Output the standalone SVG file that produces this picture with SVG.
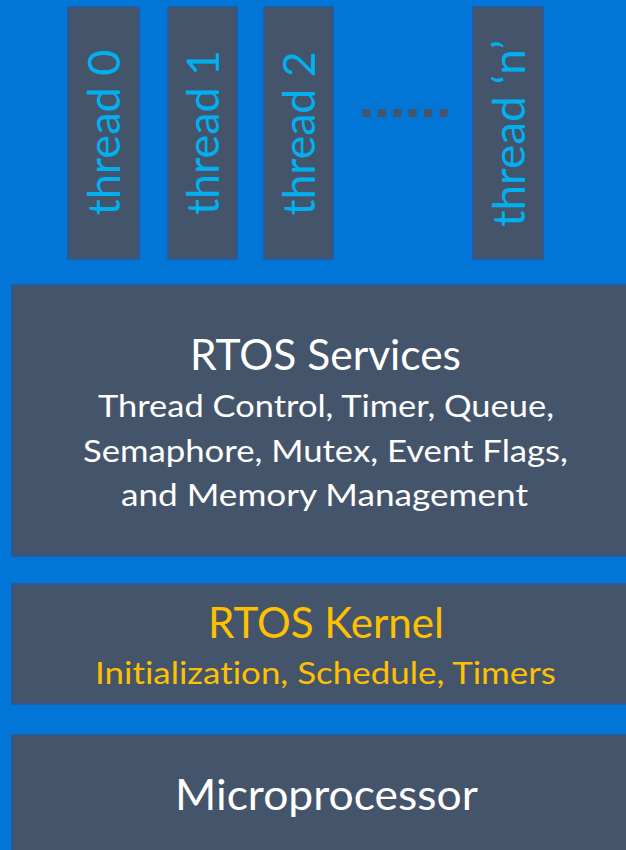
<svg xmlns="http://www.w3.org/2000/svg" width="626" height="850" viewBox="0 0 626 850">
  <style>
    text { font-variant-ligatures: none; font-feature-settings: "liga" 0, "dlig" 0; }
    .panel { fill: #44546A; stroke: #2F5597; stroke-width: 1.5; }
    .thread-label { font-family: Lato, "Open Sans", sans-serif; font-size: 45px; fill: #00B0F0; text-anchor: middle; }
    .title { font-family: Lato, "Open Sans", sans-serif; font-size: 42px; text-anchor: middle; }
    .sub { font-family: Lato, "Open Sans", sans-serif; font-size: 31.5px; text-anchor: middle; }
    .white { fill: #FFFFFF; }
    .gold { fill: #FFC000; }
  </style>

  <!-- background -->
  <rect x="0" y="0" width="626" height="850" fill="#0276D6"/>

  <!-- application threads -->
  <g id="thread0">
    <rect class="panel" x="68" y="7" width="71" height="252"/>
    <text class="thread-label" transform="translate(120,132.5) rotate(-90)" textLength="166" lengthAdjust="spacingAndGlyphs">thread 0</text>
  </g>
  <g id="thread1">
    <rect class="panel" x="168" y="7" width="69" height="252"/>
    <text class="thread-label" transform="translate(219,132.5) rotate(-90)" textLength="165" lengthAdjust="spacingAndGlyphs">thread 1</text>
  </g>
  <g id="thread2">
    <rect class="panel" x="264" y="7" width="69" height="252"/>
    <text class="thread-label" transform="translate(315,133.5) rotate(-90)" textLength="164" lengthAdjust="spacingAndGlyphs">thread 2</text>
  </g>
  <g id="threadN">
    <rect class="panel" x="473" y="7" width="70" height="252"/>
    <text class="thread-label" transform="translate(525,133.5) rotate(-90)" textLength="187" lengthAdjust="spacingAndGlyphs">thread ‘n’</text>
  </g>

  <!-- ellipsis between threads -->
  <g id="connectors">
    <line x1="362.5" y1="113" x2="447.5" y2="113" stroke="#44546A" stroke-width="8" stroke-dasharray="8 7.4"/>
  </g>

  <!-- RTOS services layer -->
  <g id="services">
    <rect class="panel" x="12" y="285" width="630" height="271"/>
    <text class="title white" x="325.5" y="370" textLength="271" lengthAdjust="spacingAndGlyphs">RTOS Services</text>
    <text class="sub white" x="326" y="416.5" textLength="456" lengthAdjust="spacingAndGlyphs">Thread Control, Timer, Queue,</text>
    <text class="sub white" x="325.5" y="461.5" textLength="485" lengthAdjust="spacingAndGlyphs">Semaphore, Mutex, Event Flags,</text>
    <text class="sub white" x="324.5" y="506" textLength="407" lengthAdjust="spacingAndGlyphs">and Memory Management</text>
  </g>

  <!-- RTOS kernel layer -->
  <g id="kernel">
    <rect class="panel" x="12" y="584" width="630" height="120"/>
    <text class="title gold" x="326" y="637.5" textLength="236" lengthAdjust="spacingAndGlyphs">RTOS Kernel</text>
    <text class="sub gold" x="325.5" y="684" textLength="461" lengthAdjust="spacingAndGlyphs">Initialization, Schedule, Timers</text>
  </g>

  <!-- hardware layer -->
  <g id="microprocessor">
    <rect class="panel" x="12" y="735" width="630" height="130"/>
    <text class="title white" x="326.5" y="810" textLength="303" lengthAdjust="spacingAndGlyphs">Microprocessor</text>
  </g>
</svg>
